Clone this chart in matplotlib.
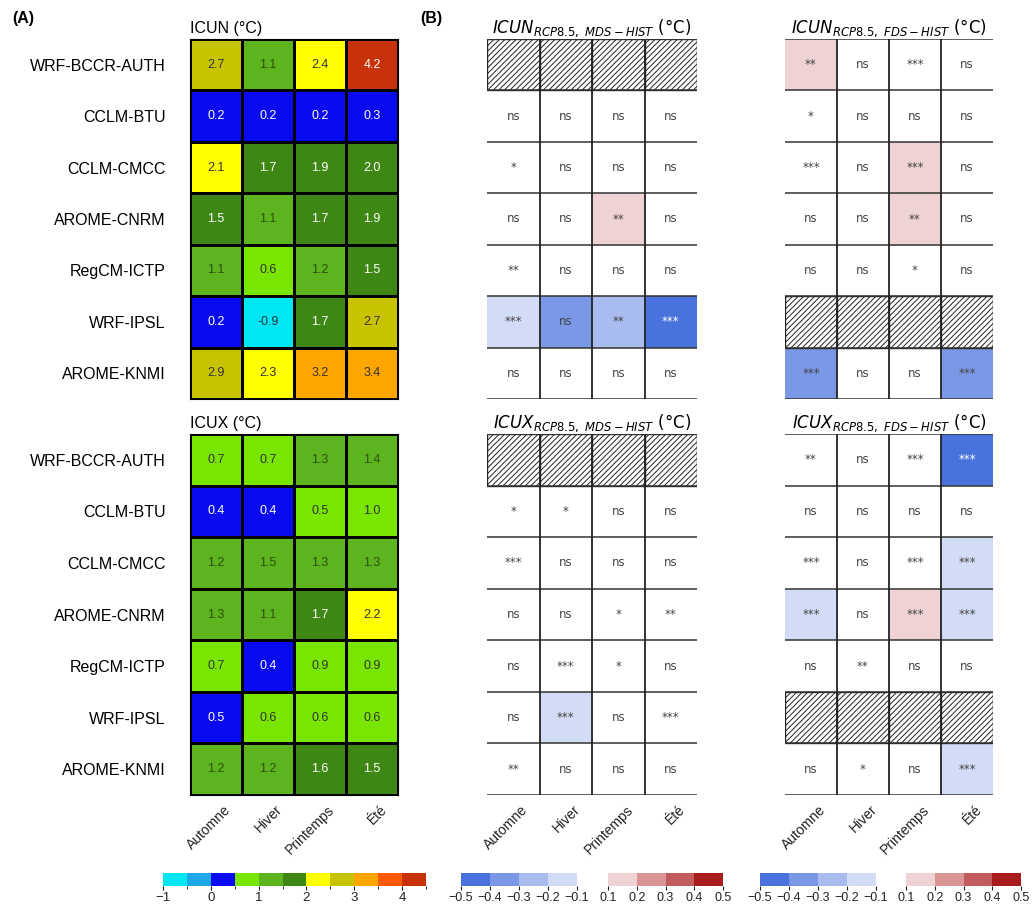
import numpy as np
import matplotlib
matplotlib.use('Agg')
import matplotlib.pyplot as plt
from matplotlib.colors import ListedColormap, BoundaryNorm
from matplotlib.cm import ScalarMappable
from matplotlib.patches import Rectangle

nan = np.nan

models = ['WRF-BCCR-AUTH', 'CCLM-BTU', 'CCLM-CMCC', 'AROME-CNRM',
          'RegCM-ICTP', 'WRF-IPSL', 'AROME-KNMI']
seasons = ['Automne', 'Hiver', 'Printemps', 'Été']

# (A) historical indices (°C), columns follow seasons
icun_hist = [[2.7, 1.1, 2.4, 4.2],
             [0.2, 0.2, 0.2, 0.3],
             [2.1, 1.7, 1.9, 1.98],
             [1.52, 1.1, 1.7, 1.9],
             [1.1, 0.6, 1.2, 1.52],
             [0.2, -0.9, 1.7, 2.7],
             [2.9, 2.3, 3.2, 3.4]]
icux_hist = [[0.7, 0.7, 1.3, 1.4],
             [0.4, 0.4, 0.52, 0.98],
             [1.2, 1.47, 1.3, 1.3],
             [1.3, 1.1, 1.7, 2.2],
             [0.7, 0.4, 0.9, 0.9],
             [0.48, 0.6, 0.6, 0.6],
             [1.2, 1.2, 1.6, 1.52]]

# (B) changes RCP8.5 - HIST (°C), nan = not available
icun_mds = [[nan, nan, nan, nan],
            [0, 0, 0, 0],
            [0, 0, 0, 0],
            [0, 0, 0.15, 0],
            [0, 0, 0, 0],
            [-0.15, -0.33, -0.28, -0.42],
            [0, 0, 0, 0]]
icun_mds_sig = [['', '', '', ''],
                ['ns', 'ns', 'ns', 'ns'],
                ['*', 'ns', 'ns', 'ns'],
                ['ns', 'ns', '**', 'ns'],
                ['**', 'ns', 'ns', 'ns'],
                ['***', 'ns', '**', '***'],
                ['ns', 'ns', 'ns', 'ns']]

icun_fds = [[0.15, 0, 0, 0],
            [0, 0, 0, 0],
            [0, 0, 0.15, 0],
            [0, 0, 0.15, 0],
            [0, 0, 0, 0],
            [nan, nan, nan, nan],
            [-0.35, 0, 0, -0.33]]
icun_fds_sig = [['**', 'ns', '***', 'ns'],
                ['*', 'ns', 'ns', 'ns'],
                ['***', 'ns', '***', 'ns'],
                ['ns', 'ns', '**', 'ns'],
                ['ns', 'ns', '*', 'ns'],
                ['', '', '', ''],
                ['***', 'ns', 'ns', '***']]

icux_mds = [[nan, nan, nan, nan],
            [0, 0, 0, 0],
            [0, 0, 0, 0],
            [0, 0, 0, 0],
            [0, 0, 0, 0],
            [0, -0.18, 0, 0],
            [0, 0, 0, 0]]
icux_mds_sig = [['', '', '', ''],
                ['*', '*', 'ns', 'ns'],
                ['***', 'ns', 'ns', 'ns'],
                ['ns', 'ns', '*', '**'],
                ['ns', '***', '*', 'ns'],
                ['ns', '***', 'ns', '***'],
                ['**', 'ns', 'ns', 'ns']]

icux_fds = [[0, 0, 0, -0.42],
            [0, 0, 0, 0],
            [0, 0, 0, -0.18],
            [-0.18, 0, 0.16, -0.18],
            [0, 0, 0, 0],
            [nan, nan, nan, nan],
            [0, 0, 0, -0.2]]
icux_fds_sig = [['**', 'ns', '***', '***'],
                ['ns', 'ns', 'ns', 'ns'],
                ['***', 'ns', '***', '***'],
                ['***', 'ns', '***', '***'],
                ['ns', '**', 'ns', 'ns'],
                ['', '', '', ''],
                ['ns', '*', 'ns', '***']]

plt.rcParams['font.family'] = ['Liberation Sans', 'DejaVu Sans']
plt.rcParams['hatch.linewidth'] = 0.7

W, H = 1032, 913
fig = plt.figure(figsize=(W / 100, H / 100), dpi=100, facecolor='white')


def add_ax(x0, y0, x1, y1):
    # pixel box (top-left origin) -> figure axes
    return fig.add_axes([x0 / W, 1 - y1 / H, (x1 - x0) / W, (y1 - y0) / H])


# colour scale for (A)
a_bounds = np.arange(-1, 5.0, 0.5)
a_colors = ['#00e6f2', '#1ea8e8', '#0a0af0', '#78e600', '#5cb41e', '#3f8714',
            '#ffff00', '#c8c300', '#ffa500', '#ff5a00', '#c8320a']
a_text = ['#333333', '#333333', 'white', '#333333', '#2f4f10', 'white',
          '#333333', '#333333', '#333333', 'white', 'white']
cmap_a = ListedColormap(a_colors)
norm_a = BoundaryNorm(a_bounds, cmap_a.N)

# colour scale for (B)
b_bounds = [-0.5, -0.4, -0.3, -0.2, -0.1, 0.1, 0.2, 0.3, 0.4, 0.5]
b_colors = ['#4a72dc', '#7a98e6', '#a9bcef', '#d3dcf6', '#ffffff',
            '#efd2d4', '#d99494', '#c05c5c', '#a81c1c']
cmap_b = ListedColormap(b_colors)
norm_b = BoundaryNorm(b_bounds, cmap_b.N)

col_x = np.arange(5)
row_y = np.arange(8)


def season_labels(ax):
    for j, lab in enumerate(seasons):
        ax.annotate(lab, xy=(j + 0.5, 0), xycoords=('data', 'axes fraction'),
                    xytext=(9, -9), textcoords='offset points', rotation=45,
                    ha='right', va='center', rotation_mode='anchor', fontsize=10,
                    color='#222222')


def draw_a(ax, vals, title, bottom):
    arr = np.array(vals, float)
    ax.pcolormesh(col_x, row_y, arr, cmap=cmap_a, norm=norm_a,
                  edgecolors='black', linewidth=0.8)
    ax.set_xlim(0, 4)
    ax.set_ylim(7, 0)
    ax.set_xticks([])
    ax.set_yticks(np.arange(7) + 0.5, models, fontsize=11.5)
    ax.tick_params(left=False, pad=14)
    for sp in ax.spines.values():
        sp.set_linewidth(0.8)
    for i in range(7):
        for j in range(4):
            v = arr[i, j]
            k = int(np.clip(np.searchsorted(a_bounds, v, side='right') - 1, 0, 10))
            ax.text(j + 0.5, i + 0.5, f'{v:.1f}', ha='center', va='center',
                    fontsize=9, color=a_text[k])
    ax.text(0, 1 + 6 / 360, title, transform=ax.transAxes, ha='left',
            va='baseline', fontsize=11.5)
    if bottom:
        season_labels(ax)


def draw_b(ax, vals, sig, title, bottom):
    arr = np.array(vals, float)
    ax.pcolormesh(col_x, row_y, np.ma.masked_invalid(arr), cmap=cmap_b, norm=norm_b)
    ax.set_xlim(0, 4)
    ax.set_ylim(7, 0)
    ax.set_xticks([])
    ax.set_yticks([])
    for sp in ax.spines.values():
        sp.set_visible(False)
    ax.hlines(row_y, 0, 4, color='#333333', linewidth=1.1)
    ax.vlines([1, 2, 3], 0, 7, color='#222222', linewidth=1.3)
    for i in range(7):
        for j in range(4):
            v = arr[i, j]
            if np.isnan(v):
                ax.add_patch(Rectangle((j, i), 1, 1, facecolor='white',
                                       edgecolor='#222222', hatch='//////',
                                       linewidth=1.0))
                continue
            tc = 'white' if abs(v) >= 0.4 else '#444444'
            ax.text(j + 0.5, i + 0.5, sig[i][j], ha='center', va='center',
                    fontsize=8.5, color=tc, family='DejaVu Sans')
    ax.text(0.5, 1 + 6 / 360, title, transform=ax.transAxes, ha='center',
            va='baseline', fontsize=12, family='DejaVu Sans')
    if bottom:
        season_labels(ax)


top = (39, 399)
bot = (434, 795)
xa = (190, 398)
xm = (487, 697)
xf = (785, 993)

draw_a(add_ax(xa[0], top[0], xa[1], top[1]), icun_hist, 'ICUN (°C)', False)
draw_a(add_ax(xa[0], bot[0], xa[1], bot[1]), icux_hist, 'ICUX (°C)', True)
draw_b(add_ax(xm[0], top[0], xm[1], top[1]), icun_mds, icun_mds_sig,
       r'$ICUN_{RCP8.5,\ MDS-HIST}$ (°C)', False)
draw_b(add_ax(xf[0], top[0], xf[1], top[1]), icun_fds, icun_fds_sig,
       r'$ICUN_{RCP8.5,\ FDS-HIST}$ (°C)', False)
draw_b(add_ax(xm[0], bot[0], xm[1], bot[1]), icux_mds, icux_mds_sig,
       r'$ICUX_{RCP8.5,\ MDS-HIST}$ (°C)', True)
draw_b(add_ax(xf[0], bot[0], xf[1], bot[1]), icux_fds, icux_fds_sig,
       r'$ICUX_{RCP8.5,\ FDS-HIST}$ (°C)', True)


def add_cbar(x0, x1, cmap, norm, ticks, size):
    cax = add_ax(x0, 873, x1, 886)
    cb = fig.colorbar(ScalarMappable(norm=norm, cmap=cmap), cax=cax,
                      orientation='horizontal', ticks=ticks)
    cb.outline.set_visible(False)
    cax.tick_params(labelsize=size, length=3, pad=1.5, colors='#222222')
    return cb


add_cbar(163, 426, cmap_a, norm_a, [-1, 0, 1, 2, 3, 4], 9.5)

blue_cols = b_colors[:4]
red_cols = b_colors[5:]
blue_b = b_bounds[:5]
red_b = b_bounds[5:]
for x0b, x0r in [(461, 608), (760, 906)]:
    cm_bl = ListedColormap(blue_cols)
    add_cbar(x0b, x0b + 116, cm_bl, BoundaryNorm(blue_b, cm_bl.N), blue_b, 9)
    cm_rd = ListedColormap(red_cols)
    add_cbar(x0r, x0r + 115, cm_rd, BoundaryNorm(red_b, cm_rd.N), red_b, 9)

fig.text(12 / W, 1 - 23 / H, '(A)', fontsize=11.5, fontweight='bold', va='baseline')
fig.text(420 / W, 1 - 23 / H, '(B)', fontsize=11.5, fontweight='bold', va='baseline')

fig.savefig('out.png', dpi=100, facecolor='white')
